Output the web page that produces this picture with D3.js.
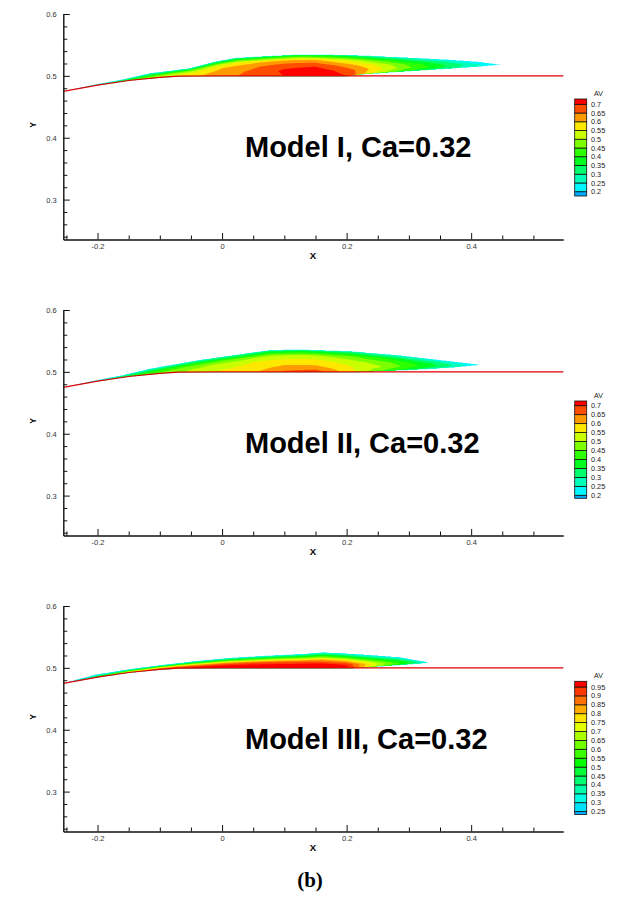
<!DOCTYPE html>
<html>
<head>
<meta charset="utf-8">
<script src="https://cdnjs.cloudflare.com/ajax/libs/d3/7.8.5/d3.min.js"></script>
<style>
  body { margin: 0; background: #fff; }
  svg { display: block; }
</style>
</head>
<body>
<svg id="chart" width="618" height="899"></svg>
<script>
// wall (red line), same in every panel
var wall = [[-0.255, 0.475], [-0.2, 0.485], [-0.15, 0.4925], [-0.1, 0.4975], [-0.07, 0.4995], [0, 0.5], [0.548, 0.5]];

var xTicks = [-0.2, 0, 0.2, 0.4];
var xMinor = [-0.25, -0.15, -0.1, -0.05, 0.05, 0.1, 0.15, 0.25, 0.3, 0.35, 0.45, 0.5];
var yTicks = [0.3, 0.4, 0.5, 0.6];
var yMinor = [0.24, 0.26, 0.28, 0.32, 0.34, 0.36, 0.38, 0.42, 0.44, 0.46, 0.48, 0.52, 0.54, 0.56, 0.58];

var titles = ["Model I, Ca=0.32", "Model II, Ca=0.32", "Model III, Ca=0.32"];

var levelsA = [0.2, 0.25, 0.3, 0.35, 0.4, 0.45, 0.5, 0.55, 0.6, 0.65, 0.7];
var levelsB = [0.25, 0.3, 0.35, 0.4, 0.45, 0.5, 0.55, 0.6, 0.65, 0.7, 0.75, 0.8, 0.85, 0.9, 0.95];

// relative height inside the film (0 = bottom, 1 = free surface)
var etaRows = [0, 0.25, 0.5, 0.75, 1];

// ---- Model I
var top1 = [[-0.25, 0.4762], [-0.2, 0.4868], [-0.16, 0.494], [-0.117, 0.504], [-0.052, 0.512], [-0.009, 0.523],
  [0.023, 0.5285], [0.066, 0.531], [0.125, 0.534], [0.205, 0.533], [0.285, 0.53], [0.365, 0.526], [0.413, 0.5226], [0.446, 0.518]];
var lift1 = [[0.2, 0.5], [0.231, 0.5035], [0.3, 0.508], [0.365, 0.512], [0.413, 0.515], [0.446, 0.518]];
var xs1 = [-0.25, -0.2, -0.15, -0.1, -0.05, 0, 0.05, 0.1, 0.15, 0.2, 0.25, 0.3, 0.35, 0.4, 0.446];
var av1 = [
  [0.25, 0.22, 0.2, 0.2, 0.2],
  [0.35, 0.3, 0.26, 0.22, 0.2],
  [0.45, 0.41, 0.35, 0.28, 0.21],
  [0.53, 0.5, 0.44, 0.35, 0.23],
  [0.59, 0.57, 0.53, 0.44, 0.26],
  [0.63, 0.62, 0.6, 0.53, 0.3],
  [0.67, 0.66, 0.64, 0.58, 0.33],
  [0.7, 0.71, 0.68, 0.61, 0.36],
  [0.74, 0.73, 0.69, 0.61, 0.36],
  [0.7, 0.68, 0.63, 0.55, 0.33],
  [0.53, 0.57, 0.54, 0.45, 0.28],
  [0.4, 0.46, 0.44, 0.37, 0.25],
  [0.32, 0.37, 0.35, 0.31, 0.22],
  [0.25, 0.28, 0.27, 0.24, 0.21],
  [0.2, 0.2, 0.2, 0.2, 0.2]
];

// ---- Model II
var top2 = [[-0.25, 0.4762], [-0.2, 0.4868], [-0.16, 0.4945], [-0.116, 0.505], [-0.036, 0.519], [0.044, 0.53],
  [0.076, 0.5345], [0.124, 0.5355], [0.205, 0.5328], [0.28, 0.527], [0.333, 0.521], [0.38, 0.5155], [0.415, 0.5113]];
var lift2 = [[0.22, 0.5], [0.3, 0.5035], [0.37, 0.507], [0.415, 0.5113]];
var xs2 = [-0.25, -0.2, -0.15, -0.1, -0.05, 0, 0.05, 0.1, 0.15, 0.2, 0.25, 0.3, 0.35, 0.415];
var av2 = [
  [0.24, 0.22, 0.2, 0.2, 0.2],
  [0.32, 0.28, 0.25, 0.22, 0.2],
  [0.4, 0.37, 0.33, 0.27, 0.21],
  [0.46, 0.44, 0.4, 0.33, 0.23],
  [0.51, 0.5, 0.47, 0.4, 0.25],
  [0.56, 0.54, 0.52, 0.45, 0.28],
  [0.59, 0.57, 0.55, 0.49, 0.3],
  [0.66, 0.61, 0.57, 0.51, 0.32],
  [0.68, 0.61, 0.57, 0.51, 0.32],
  [0.58, 0.56, 0.53, 0.47, 0.3],
  [0.46, 0.51, 0.48, 0.41, 0.27],
  [0.37, 0.43, 0.41, 0.35, 0.24],
  [0.28, 0.34, 0.33, 0.29, 0.22],
  [0.2, 0.2, 0.2, 0.2, 0.2]
];

// ---- Model III
var top3 = [[-0.25, 0.4765], [-0.203, 0.489], [-0.15, 0.4975], [-0.095, 0.5045], [-0.036, 0.5112], [0.012, 0.5156],
  [0.07, 0.519], [0.13, 0.522], [0.162, 0.5247], [0.19, 0.5235], [0.231, 0.521], [0.285, 0.517], [0.333, 0.5085]];
var lift3 = [[0.21, 0.5], [0.285, 0.505], [0.333, 0.5085]];
var xs3 = [-0.25, -0.2, -0.15, -0.1, -0.05, 0, 0.05, 0.1, 0.15, 0.2, 0.22, 0.25, 0.3, 0.333];
var av3 = [
  [0.35, 0.3, 0.28, 0.27, 0.26],
  [0.6, 0.5, 0.4, 0.32, 0.27],
  [0.8, 0.7, 0.55, 0.4, 0.28],
  [0.93, 0.85, 0.68, 0.48, 0.3],
  [0.97, 0.93, 0.78, 0.55, 0.31],
  [0.98, 0.96, 0.85, 0.6, 0.32],
  [0.99, 0.97, 0.88, 0.62, 0.33],
  [0.99, 0.97, 0.88, 0.62, 0.33],
  [0.99, 0.97, 0.86, 0.6, 0.32],
  [0.98, 0.94, 0.8, 0.55, 0.31],
  [0.85, 0.85, 0.72, 0.5, 0.3],
  [0.68, 0.7, 0.6, 0.45, 0.29],
  [0.45, 0.5, 0.46, 0.38, 0.28],
  [0.3, 0.3, 0.3, 0.3, 0.28]
];

var panels = [
  { title: titles[0], top: top1, lift: lift1, xs: xs1, av: av1, levels: levelsA, off: 0, legTop: 99, legFirst: 5.3, legStep: 8.74, legLast: 4.3 },
  { title: titles[1], top: top2, lift: lift2, xs: xs2, av: av2, levels: levelsA, off: 296, legTop: 401, legFirst: 4.7, legStep: 8.96, legLast: 3 },
  { title: titles[2], top: top3, lift: lift3, xs: xs3, av: av3, levels: levelsB, off: 592, legTop: 681.3, legFirst: 5.7, legStep: 8.9, legLast: 3 }
];

var sans = "'Liberation Sans', Arial, sans-serif";
var svg = d3.select("#chart");

var interp = function(pts, x) {
  if (x <= pts[0][0]) return pts[0][1];
  for (var i = 1; i < pts.length; i++) {
    if (x <= pts[i][0]) {
      var t = (x - pts[i - 1][0]) / (pts[i][0] - pts[i - 1][0]);
      return pts[i - 1][1] + t * (pts[i][1] - pts[i - 1][1]);
    }
  }
  return pts[pts.length - 1][1];
};

var bandColor = function(b, nb) {
  return d3.hsl(200 * (1 - b / (nb - 1)), 1, 0.5).formatHex();
};

// value of the field at data point (X, Y), null outside the film
var sampleField = function(p, X, Y) {
  var xs = p.xs;
  if (X < xs[0] || X > xs[xs.length - 1]) return null;
  var yb = X >= p.lift[0][0] ? interp(p.lift, X) : interp(wall, X);
  var yt = interp(p.top, X);
  if (Y < yb || Y > yt || yt - yb <= 0) return null;
  var eta = (Y - yb) / (yt - yb);
  var k = 0;
  while (k < xs.length - 2 && X > xs[k + 1]) k++;
  var tx = (X - xs[k]) / (xs[k + 1] - xs[k]);
  var r = Math.min(Math.floor(eta * (etaRows.length - 1)), etaRows.length - 2);
  var ty = (eta - etaRows[r]) / (etaRows[r + 1] - etaRows[r]);
  var a = p.av[k], c = p.av[k + 1];
  var lo = a[r] + tx * (c[r] - a[r]);
  var hi = a[r + 1] + tx * (c[r + 1] - a[r + 1]);
  return lo + ty * (hi - lo);
};

var drawPanel = function(p) {
  var x = d3.scaleLinear().domain([-0.255, 0.548]).range([63.3, 563.3]);
  var y = d3.scaleLinear().domain([0.2355, 0.6]).range([239.5 + p.off, 14 + p.off]);
  var g = svg.append("g").attr("class", "panel");

  // contour field on a fine pixel grid
  var gx0 = Math.floor(x(-0.26)), gx1 = Math.ceil(x(0.46));
  var gy0 = Math.floor(y(0.545)), gy1 = Math.ceil(y(0.468));
  var dx = 1, dy = 0.5;
  var nx = Math.ceil((gx1 - gx0) / dx), ny = Math.ceil((gy1 - gy0) / dy);
  var lowest = p.levels[0];
  var values = new Float64Array(nx * ny);
  for (var j = 0; j < ny; j++) {
    for (var i = 0; i < nx; i++) {
      var v = sampleField(p, x.invert(gx0 + (i + 0.5) * dx), y.invert(gy0 + (j + 0.5) * dy));
      values[i + j * nx] = v === null ? lowest - 0.03 : Math.max(v, lowest + 0.03);
    }
  }
  var contours = d3.contours().size([nx, ny]).thresholds(p.levels)(values);
  var proj = d3.geoTransform({
    point: function(px, py) {
      this.stream.point(gx0 + px * dx, gy0 + py * dy);
    }
  });
  var path = d3.geoPath(proj);
  var nb = p.levels.length + 1;
  g.append("g")
    .selectAll("path")
    .data(contours)
    .join("path")
    .attr("d", path)
    .attr("fill", function(d) {
      return bandColor(p.levels.indexOf(d.value) + 1, nb);
    })
    .attr("stroke", "none");

  // wall line
  g.append("path")
    .datum(wall)
    .attr("fill", "none")
    .attr("stroke", "#e00000")
    .attr("stroke-width", 1.2)
    .attr("d", d3.line().x(function(d) { return x(d[0]); }).y(function(d) { return y(d[1]); }));

  // axes
  var fmt = function(d) { return String(d); };
  g.append("g")
    .attr("transform", "translate(0," + y.range()[0] + ")")
    .call(d3.axisBottom(x).tickValues(xMinor).tickSize(-4).tickSizeOuter(0).tickFormat(""))
    .call(function(a) { a.select(".domain").remove(); });
  g.append("g")
    .attr("transform", "translate(0," + y.range()[0] + ")")
    .call(d3.axisBottom(x).tickValues(xTicks).tickSizeInner(-6.5).tickSizeOuter(0).tickPadding(4).tickFormat(fmt));
  g.append("g")
    .attr("transform", "translate(" + x.range()[0] + ",0)")
    .call(d3.axisLeft(y).tickValues(yMinor).tickSize(-4).tickSizeOuter(0).tickFormat(""))
    .call(function(a) { a.select(".domain").remove(); });
  g.append("g")
    .attr("transform", "translate(" + x.range()[0] + ",0)")
    .call(d3.axisLeft(y).tickValues(yTicks).tickSizeInner(-6.5).tickSizeOuter(0).tickPadding(6.5).tickFormat(fmt));
  g.selectAll(".tick line").attr("stroke", "#111").attr("stroke-width", 1);
  g.selectAll(".domain").attr("stroke", "#111").attr("stroke-width", 1.4);
  g.selectAll(".tick text")
    .style("font-family", sans)
    .attr("font-size", 7.5)
    .attr("fill", "#333");

  g.append("text")
    .attr("x", 313)
    .attr("y", y.range()[0] + 19)
    .attr("text-anchor", "middle")
    .style("font-family", sans)
    .attr("font-size", 9.5)
    .attr("font-weight", "bold")
    .text("X");
  g.append("text")
    .attr("transform", "translate(36," + (125 + p.off) + ") rotate(-90)")
    .attr("text-anchor", "middle")
    .style("font-family", sans)
    .attr("font-size", 8.5)
    .attr("font-weight", "bold")
    .text("Y");

  g.append("text")
    .attr("x", 245)
    .attr("y", 156.5 + p.off)
    .style("font-family", sans)
    .attr("font-size", 29)
    .attr("font-weight", "bold")
    .attr("fill", "#000")
    .text(p.title);

  // legend
  var n = p.levels.length;
  var ly = d3.scaleLinear()
    .domain([p.levels[0], p.levels[n - 1]])
    .range([p.legTop + p.legFirst + (n - 1) * p.legStep, p.legTop + p.legFirst]);
  var boxes = [];
  for (var b = 0; b <= n; b++) {
    var y1 = b === 0 ? ly(p.levels[0]) + p.legLast : ly(p.levels[b - 1]);
    var y0 = b === n ? p.legTop : ly(p.levels[b]);
    boxes.push({ b: b, y0: y0, y1: y1 });
  }
  var leg = g.append("g").attr("class", "legend");
  leg.selectAll("rect")
    .data(boxes)
    .join("rect")
    .attr("x", 574.7)
    .attr("width", 12)
    .attr("y", function(d) { return d.y0; })
    .attr("height", function(d) { return d.y1 - d.y0; })
    .attr("fill", function(d) { return bandColor(d.b, nb); })
    .attr("stroke", "#111")
    .attr("stroke-width", 0.8);
  leg.selectAll("text.lv")
    .data(p.levels)
    .join("text")
    .attr("class", "lv")
    .attr("x", 591)
    .attr("y", function(d) { return ly(d); })
    .attr("dy", "0.35em")
    .style("font-family", sans)
    .attr("font-size", 7.3)
    .attr("fill", "#222")
    .text(fmt);
  leg.append("text")
    .attr("x", 594)
    .attr("y", p.legTop - 3)
    .style("font-family", sans)
    .attr("font-size", 7)
    .attr("fill", "#222")
    .text("AV");
};

panels.forEach(drawPanel);

svg.append("text")
  .attr("x", 310)
  .attr("y", 887)
  .attr("text-anchor", "middle")
  .style("font-family", "'Liberation Serif', 'Times New Roman', serif")
  .attr("font-size", 21)
  .attr("font-weight", "bold")
  .text("(b)");
</script>
</body>
</html>
